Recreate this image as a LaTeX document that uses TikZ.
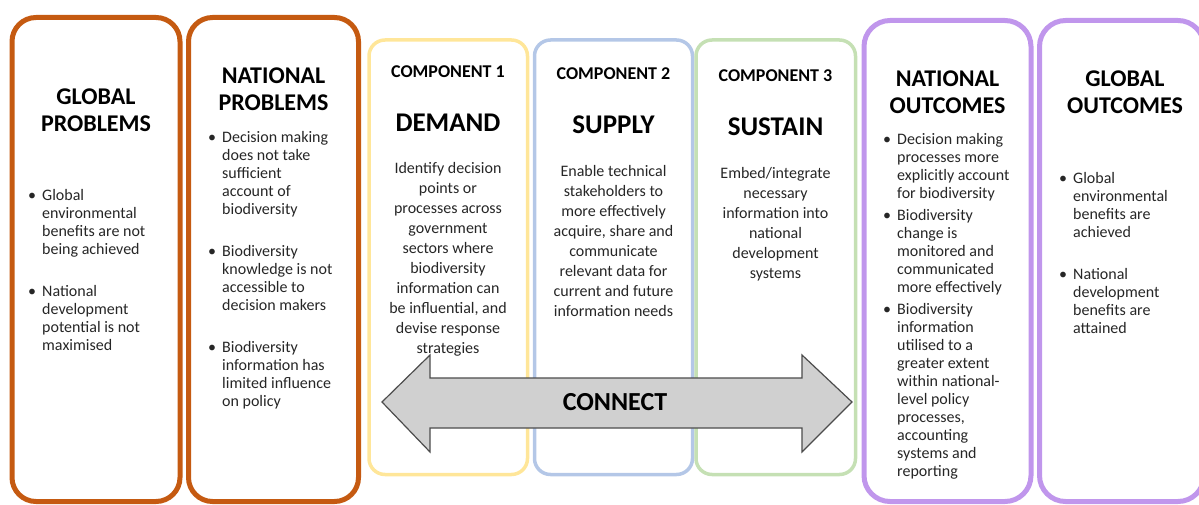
\documentclass[tikz,border=0pt]{standalone}
\usepackage{fontspec}
\setmainfont{Carlito}
\usepackage{tikz}
\usetikzlibrary{positioning}
\definecolor{proborange}{RGB}{197,90,17}
\definecolor{compyellow}{RGB}{255,230,153}
\definecolor{compblue}{RGB}{180,199,231}
\definecolor{compgreen}{RGB}{197,224,180}
\definecolor{outpurple}{RGB}{192,150,236}
\definecolor{arrowgray}{RGB}{208,208,208}
\definecolor{bodytext}{RGB}{38,38,38}
\newcommand{\bul}{\llap{\textbullet\hspace{6pt}}}
\tikzstyle{probbox} = [draw=proborange, line width=5pt, rounded corners=24pt]
\tikzstyle{compbox} = [line width=3.5pt, rounded corners=16pt]
\tikzstyle{outbox} = [draw=outpurple, line width=5pt, rounded corners=26pt]
% multi-line nodes sit on the baseline of their last line
\tikzstyle{heading} = [font=\fontsize{24}{27}\selectfont\bfseries, align=center, anchor=base, inner sep=0pt]
\tikzstyle{compno} = [font=\fontsize{18}{21}\selectfont\bfseries, anchor=base, inner sep=0pt]
\tikzstyle{compname} = [font=\fontsize{27}{30}\selectfont\bfseries, anchor=base, inner sep=0pt]
\tikzstyle{compdesc} = [font=\fontsize{16}{20}\selectfont, text=bodytext, align=center, anchor=base, inner sep=0pt]
\tikzstyle{bullets} = [font=\fontsize{16}{18}\selectfont, text=bodytext, align=left, anchor=base west, inner sep=0pt]

\begin{document}
\begin{tikzpicture}[x=1pt, y=-1pt]
    \useasboundingbox (0,0) rectangle (1199,505);
    \clip (0,0) rectangle (1199,505);

    % Problem columns
    \draw[probbox] (12,17.5) rectangle (180,501.5);
    \draw[probbox] (188.5,17.5) rectangle (358.5,501.5);

    % Component columns
    \draw[compbox, draw=compyellow] (369,40) rectangle (527.5,474.5);
    \draw[compbox, draw=compblue] (534.5,40) rectangle (692.5,474.5);
    \draw[compbox, draw=compgreen] (696,40) rectangle (855.5,474.5);

    % Outcome columns
    \draw[outbox] (864,20.5) rectangle (1031,501.5);
    \draw[outbox] (1039.5,20.5) rectangle (1204,501.5);

    % Problems
    \node[heading] (gprobtitle) at (96,132) {GLOBAL\\PROBLEMS};
    \node[bullets] (gproblist) at (42,350) {\bul Global\\environmental\\benefits are not\\being achieved\\[24pt]
        \bul National\\development\\potential is not\\maximised};

    \node[heading] (nprobtitle) at (273.5,111) {NATIONAL\\PROBLEMS};
    \node[bullets] (nproblist) at (222,406) {\bul Decision making\\does not take\\sufficient\\account of\\biodiversity\\[24pt]
        \bul Biodiversity\\knowledge is not\\accessible to\\decision makers\\[24pt]
        \bul Biodiversity\\information has\\limited influence\\on policy};

    % Components
    \node[compno] (demandno) at (448,78) {COMPONENT 1};
    \node[compname] (demandname) at (448,132) {DEMAND};
    \node[compdesc] (demanddesc) at (448,353) {Identify decision\\points or\\processes across\\government\\sectors where\\biodiversity\\information can\\be influential, and\\devise response\\strategies};

    \node[compno] (supplyno) at (613.5,80) {COMPONENT 2};
    \node[compname] (supplyname) at (613.5,133.5) {SUPPLY};
    \node[compdesc] (supplydesc) at (613.5,316) {Enable technical\\stakeholders to\\more effectively\\acquire, share and\\communicate\\relevant data for\\current and future\\information needs};

    \node[compno] (sustainno) at (775.5,81.5) {COMPONENT 3};
    \node[compname] (sustainname) at (775.5,136) {SUSTAIN};
    \node[compdesc] (sustaindesc) at (775.5,278) {Embed/integrate\\necessary\\information into\\national\\development\\systems};

    % Connect arrow
    \draw[fill=arrowgray, draw=black!70, line width=1.2pt, line join=miter]
        (382,402) -- (430,355) -- (430,378) -- (802,378) -- (802,355) -- (852,402)
        -- (802,452) -- (802,428) -- (430,428) -- (430,452) -- cycle;
    \node[compname, font=\fontsize{26}{30}\selectfont\bfseries, anchor=center] (connect) at (615,402) {CONNECT};

    % Outcomes
    \node[heading] (nouttitle) at (947.5,114) {NATIONAL\\OUTCOMES};
    \node[bullets] (noutlist) at (897,476) {\bul Decision making\\processes more\\explicitly account\\for biodiversity\\[4pt]
        \bul Biodiversity\\change is\\monitored and\\communicated\\more effectively\\[4pt]
        \bul Biodiversity\\information\\utilised to a\\greater extent\\within national-\\level policy\\processes,\\accounting\\systems and\\reporting};

    \node[heading] (gouttitle) at (1125,114) {GLOBAL\\OUTCOMES};
    \node[bullets] (goutlist) at (1073,333) {\bul Global\\environmental\\benefits are\\achieved\\[24pt]
        \bul National\\development\\benefits are\\attained};
\end{tikzpicture}
\end{document}
